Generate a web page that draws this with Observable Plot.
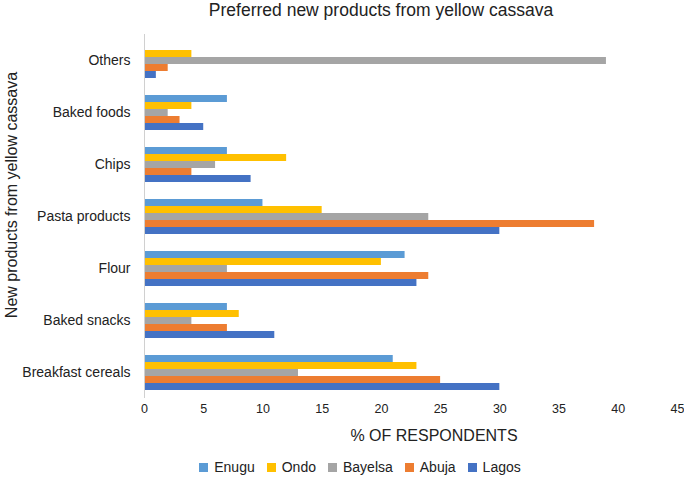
<!DOCTYPE html>
<html><head><meta charset="utf-8">
<script src="https://cdn.jsdelivr.net/npm/d3@7"></script>
<script src="https://cdn.jsdelivr.net/npm/@observablehq/plot@0.6"></script>
<style>
body{margin:0;background:#fff;font-family:"Liberation Sans",Arial,sans-serif;}
#wrap{position:relative;width:684px;height:479px;overflow:hidden;}
.abs{position:absolute;white-space:nowrap;color:#222;}
#title{top:0px;left:0;width:762px;text-align:center;font-size:17.5px;}
#ylab{left:12px;top:195px;transform:translate(-50%,-50%) rotate(-90deg);font-size:16px;}
#xlab{top:427px;left:434px;transform:translateX(-50%);font-size:16px;}
#legend{top:459px;left:0;width:720px;font-size:14px;display:flex;justify-content:center;}
.li{display:flex;align-items:center;margin:0 6px;}
.sw{width:9px;height:9px;margin-right:6px;}
#chart{position:absolute;top:25px;left:0;}
</style></head>
<body><div id="wrap">
<div id="title" class="abs">Preferred new products from yellow cassava</div>
<div id="ylab" class="abs">New products from yellow cassava</div>
<div id="xlab" class="abs">% OF RESPONDENTS</div>
<div id="legend" class="abs"></div>
<div id="chart"></div>
</div>
<script>
const categories = ["Others","Baked foods","Chips","Pasta products","Flour","Baked snacks","Breakfast cereals"];
const series = ["Enugu","Ondo","Bayelsa","Abuja","Lagos"];
const colors = ["#5B9BD5","#FFC000","#A5A5A5","#ED7D31","#4472C4"];
const enugu   = [0, 7, 7, 10, 22, 7, 21];
const ondo    = [4, 4, 12, 15, 20, 8, 23];
const bayelsa = [39, 2, 6, 24, 7, 4, 13];
const abuja   = [2, 3, 4, 38, 24, 7, 25];
const lagos   = [1, 5, 9, 30, 23, 11, 30];
const xTicks = [0,5,10,15,20,25,30,35,40,45];

const valuesBySeries = [enugu, ondo, bayelsa, abuja, lagos];
const data = [];
categories.forEach((c, i) => series.forEach((s, j) => data.push({category: c, series: s, value: valuesBySeries[j][i]})));

const plot = Plot.plot({
  width: 684,
  height: 425,
  marginTop: 6,
  marginBottom: 50,
  marginLeft: 144,
  marginRight: 7,
  style: {fontFamily: '"Liberation Sans",Arial,sans-serif', fontSize: "12.5px", color: "#222"},
  x: {domain: [0, 45], ticks: xTicks, tickSize: 0, tickPadding: 6, label: null, line: false},
  y: {domain: series, axis: null, paddingInner: 0.05, paddingOuter: 1},
  fy: {domain: categories, padding: 0, axis: "left", tickSize: 0, tickPadding: 14, label: null},
  color: {domain: series, range: colors},
  facet: {data: data, y: "category"},
  marks: [
    Plot.barX(data, {x: "value", y: "series", fill: "series"}),
    Plot.ruleX([0], {stroke: "#d0d0d0", strokeWidth: 1})
  ]
});
plot.querySelectorAll("g[aria-label='fy-axis'] text, g[aria-label='fy-axis tick label'] text").forEach(t => t.style.fontSize = "14px");
document.getElementById("chart").appendChild(plot);

const leg = document.getElementById("legend");
series.forEach((s, i) => {
  const d = document.createElement("div"); d.className = "li";
  d.innerHTML = `<span class="sw" style="background:${colors[i]}"></span><span>${s}</span>`;
  leg.appendChild(d);
});
</script>
</body></html>
